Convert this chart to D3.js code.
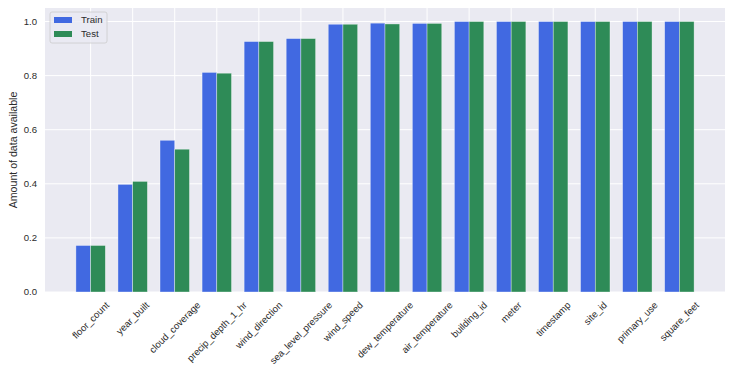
<!DOCTYPE html>
<html>
<head>
<meta charset="utf-8">
<script src="https://cdn.jsdelivr.net/npm/d3@7"></script>
<style>
  body { margin: 0; background: #fff; }
  text { font-family: "Liberation Sans", Arial, sans-serif; fill: #2b2b2b; }
</style>
</head>
<body>
<div id="chart"></div>
<script>
// data
var features = ["floor_count", "year_built", "cloud_coverage", "precip_depth_1_hr",
    "wind_direction", "sea_level_pressure", "wind_speed", "dew_temperature",
    "air_temperature", "building_id", "meter", "timestamp", "site_id",
    "primary_use", "square_feet"];
var trainVals = [0.172, 0.398, 0.561, 0.812, 0.926, 0.937, 0.990, 0.994, 0.993, 1.0, 1.0, 1.0, 1.0, 1.0, 1.0];
var testVals  = [0.172, 0.409, 0.528, 0.809, 0.926, 0.937, 0.990, 0.991, 0.993, 1.0, 1.0, 1.0, 1.0, 1.0, 1.0];
var yTicks = [0, 0.2, 0.4, 0.6, 0.8, 1.0];
var seriesNames = ["Train", "Test"];
var colors = ["#4169e1", "#2e8b57"];

var width = 731, height = 373;
var margin = {left: 45, right: 6, top: 8, bottom: 81};
var barW = 0.35;
var fs = 9.6; // tick label size

var svg = d3.select("#chart").append("svg")
    .attr("width", width)
    .attr("height", height);

// x is a linear scale over the bar index, like matplotlib
var x = d3.scaleLinear()
    .domain([-1.085, features.length - 1 + 1.085])
    .range([margin.left, width - margin.right]);

var y = d3.scaleLinear()
    .domain([0, 1.05])
    .range([height - margin.bottom, margin.top]);

// axes background
svg.append("rect")
    .attr("x", margin.left)
    .attr("y", margin.top)
    .attr("width", width - margin.left - margin.right)
    .attr("height", height - margin.top - margin.bottom)
    .attr("fill", "#eaeaf2");

// grid
svg.append("g").selectAll("line")
    .data(yTicks)
    .enter().append("line")
    .attr("x1", margin.left)
    .attr("x2", width - margin.right)
    .attr("y1", function(d) { return y(d); })
    .attr("y2", function(d) { return y(d); })
    .attr("stroke", "#fff")
    .attr("stroke-width", 1);

svg.append("g").selectAll("line")
    .data(features)
    .enter().append("line")
    .attr("x1", function(d, i) { return x(i); })
    .attr("x2", function(d, i) { return x(i); })
    .attr("y1", margin.top)
    .attr("y2", height - margin.bottom)
    .attr("stroke", "#fff")
    .attr("stroke-width", 1);

// bars
var series = [trainVals, testVals];
series.forEach(function(vals, s) {
    svg.append("g").selectAll("rect")
        .data(vals)
        .enter().append("rect")
        .attr("x", function(d, i) { return x(i + (s === 0 ? -barW : 0)); })
        .attr("width", x(barW) - x(0))
        .attr("y", function(d) { return y(d); })
        .attr("height", function(d) { return y(0) - y(d); })
        .attr("fill", colors[s])
        .attr("stroke", "#fff")
        .attr("stroke-opacity", 0.6)
        .attr("stroke-width", 0.6);
});

// y tick labels
svg.append("g").selectAll("text")
    .data(yTicks)
    .enter().append("text")
    .attr("x", margin.left - 8)
    .attr("y", function(d) { return y(d); })
    .attr("dy", "0.35em")
    .attr("text-anchor", "end")
    .style("font-size", fs + "px")
    .text(function(d) { return d3.format(".1f")(d); });

// x tick labels, rotated 45 and centred on the tick
var xl = svg.append("g").selectAll("text")
    .data(features)
    .enter().append("text")
    .attr("text-anchor", "middle")
    .attr("dy", "0.35em")
    .style("font-size", fs + "px")
    .text(function(d) { return d; });

xl.each(function(d, i) {
    var len = this.getComputedTextLength();
    var half = (len + fs) * Math.SQRT1_2 / 2;
    var top = height - margin.bottom + 8;
    d3.select(this).attr("transform",
        "translate(" + x(i) + "," + (top + half) + ") rotate(-45)");
});

// y axis label
svg.append("text")
    .attr("transform", "translate(13.5," + (margin.top + (height - margin.top - margin.bottom) / 2) + ") rotate(-90)")
    .attr("text-anchor", "middle")
    .attr("dy", "0.35em")
    .style("font-size", "10.6px")
    .text("Amount of data available");

// legend
var lg = svg.append("g").attr("transform", "translate(50,12)");
lg.append("rect")
    .attr("width", 57)
    .attr("height", 31)
    .attr("rx", 2)
    .attr("fill", "#eaeaf2")
    .attr("fill-opacity", 0.8)
    .attr("stroke", "#cccccc")
    .attr("stroke-width", 0.8);

seriesNames.forEach(function(name, s) {
    lg.append("rect")
        .attr("x", 4)
        .attr("y", 5 + s * 14)
        .attr("width", 18)
        .attr("height", 6)
        .attr("fill", colors[s]);
    lg.append("text")
        .attr("x", 31)
        .attr("y", 8 + s * 14)
        .attr("dy", "0.35em")
        .style("font-size", fs + "px")
        .text(name);
});
</script>
</body>
</html>
